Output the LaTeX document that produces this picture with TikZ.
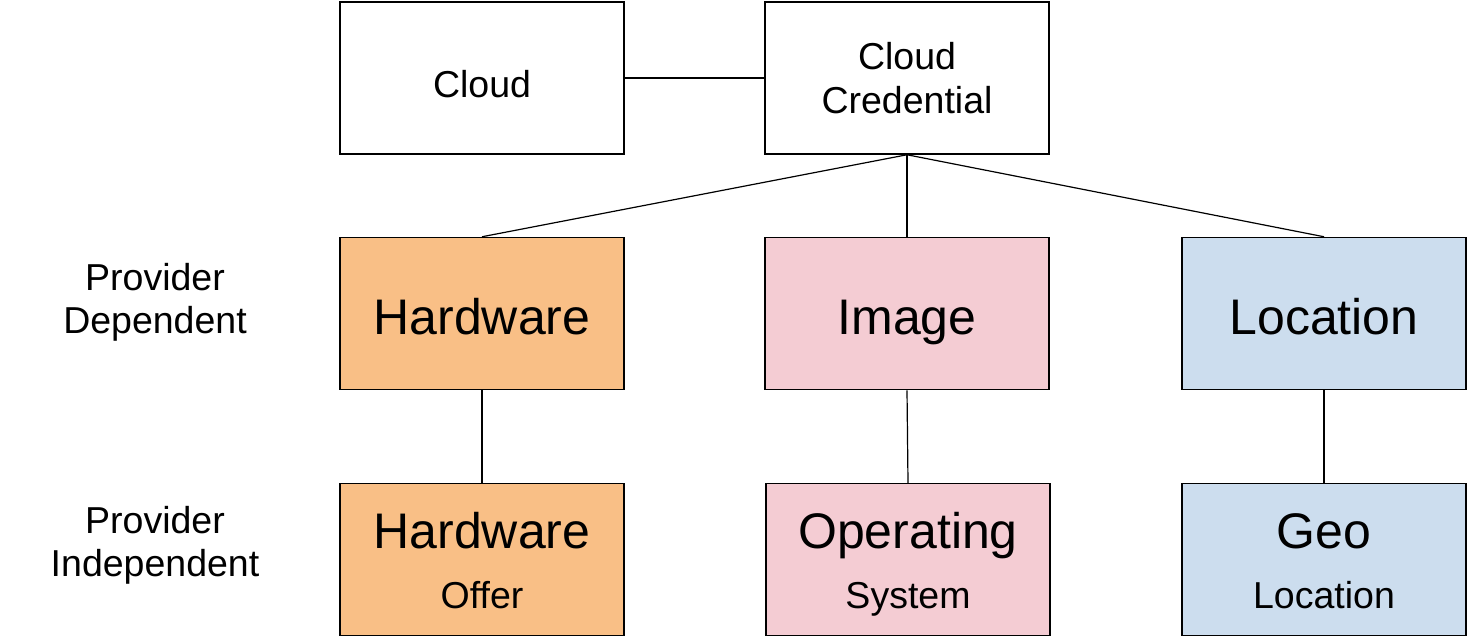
\documentclass[tikz,border=0pt]{standalone}
\usepackage{fontspec}
\setmainfont{Liberation Sans}
\usetikzlibrary{positioning}

\definecolor{hworange}{HTML}{F9BF86}
\definecolor{ospink}{HTML}{F4CCD3}
\definecolor{geoblue}{HTML}{CCDDEE}

\begin{document}
\begin{tikzpicture}[x=1pt,y=-1pt,
    box/.style={draw,line width=1.5pt,inner sep=0pt,
    minimum width=284pt,minimum height=152pt},
    small/.style={anchor=base,inner sep=0pt,font=\fontsize{37.5}{44}\selectfont},
    big/.style={anchor=base,inner sep=0pt,font=\fontsize{50}{60}\selectfont},
    wire/.style={line width=1.2pt}]

  \useasboundingbox (0,0) rectangle (1467,641);

  % boxes
  \node[box] (cloud) at (482,78) {};
  \node[box] (cred) at (907,78) {};
  \node[box,fill=hworange] (hw) at (482,313.5) {};
  \node[box,fill=ospink] (img) at (907,313.5) {};
  \node[box,fill=geoblue] (loc) at (1324,313.5) {};
  \node[box,fill=hworange] (offer) at (482,559.5) {};
  \node[box,fill=ospink] (os) at (908,559.5) {};
  \node[box,fill=geoblue] (geo) at (1324,559.5) {};

  % texts
  \node[small] (cloud-t) at (482,97) {Cloud};
  \node[small] (cred-t1) at (907,69) {Cloud};
  \node[small] (cred-t2) at (907,113) {Credential};

  \node[big] (hw-t) at (482,334) {Hardware};
  \node[big] (img-t) at (907,334) {Image};
  \node[big] (loc-t) at (1324,334) {Location};

  \node[big] (offer-t1) at (482,548) {Hardware};
  \node[small] (offer-t2) at (482,608) {Offer};
  \node[big] (os-t1) at (908,548) {Operating};
  \node[small] (os-t2) at (908,608) {System};
  \node[big] (geo-t1) at (1324,548) {Geo};
  \node[small] (geo-t2) at (1324,608) {Location};

  \node[small] (dep-t1) at (155,290) {Provider};
  \node[small] (dep-t2) at (155,333) {Dependent};
  \node[small] (indep-t1) at (155,533) {Provider};
  \node[small] (indep-t2) at (155,576) {Independent};

  % connectors
  \draw[wire] (cloud.east) -- (cred.west);
  \draw[wire] (cred.south) -- (hw.north);
  \draw[wire] (cred.south) -- (img.north);
  \draw[wire] (cred.south) -- (loc.north);
  \draw[wire] (hw.south) -- (offer.north);
  \draw[wire] (img.south) -- (os.north);
  \draw[wire] (loc.south) -- (geo.north);

\end{tikzpicture}
\end{document}
